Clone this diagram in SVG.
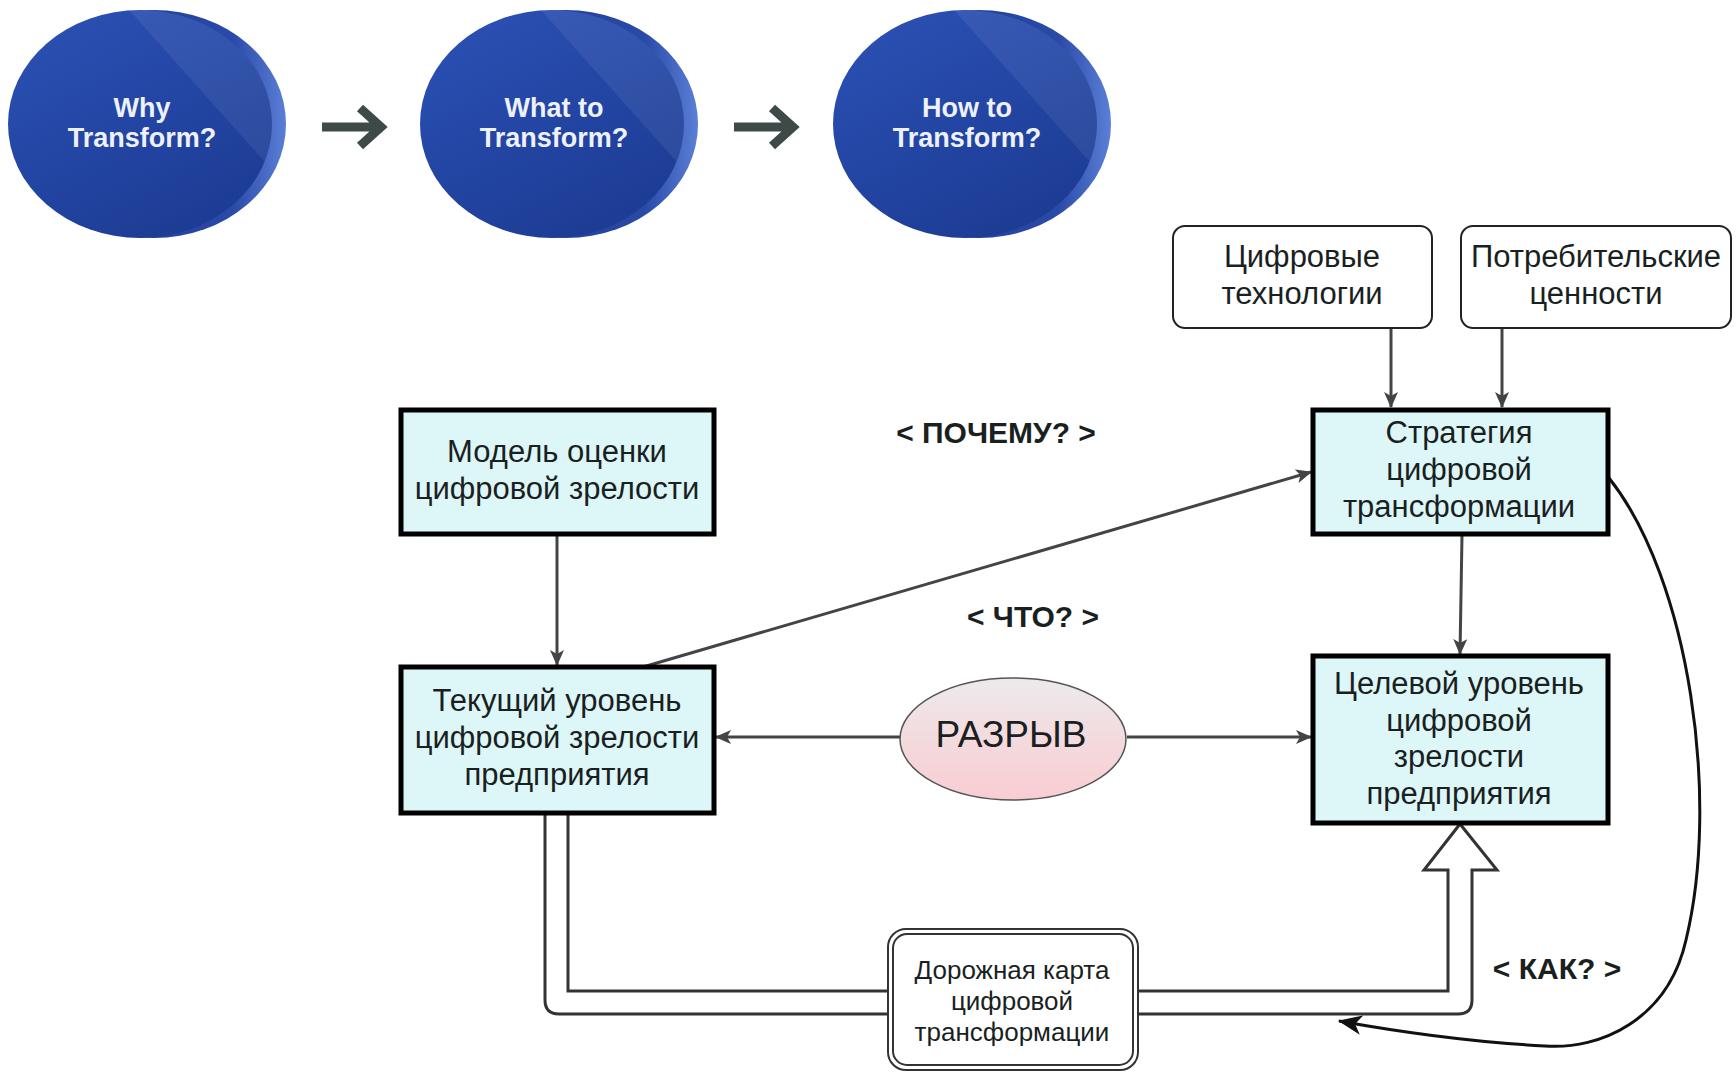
<svg xmlns="http://www.w3.org/2000/svg" width="1736" height="1072" viewBox="0 0 1736 1072">
<defs>
<linearGradient id="face" x1="0" y1="0" x2="0.6" y2="1">
<stop offset="0" stop-color="#2d52b6"/>
<stop offset="0.5" stop-color="#2447a6"/>
<stop offset="1" stop-color="#1d3c94"/>
</linearGradient>
<linearGradient id="rim" x1="0" y1="0" x2="1" y2="0">
<stop offset="0" stop-color="#1a3488"/>
<stop offset="0.8" stop-color="#2a4aa8"/>
<stop offset="1" stop-color="#5b7fd6"/>
</linearGradient>
<linearGradient id="gap" x1="0" y1="0" x2="0" y2="1">
<stop offset="0" stop-color="#eceaec"/>
<stop offset="0.45" stop-color="#f3dcdf"/>
<stop offset="1" stop-color="#f8cdd2"/>
</linearGradient>
<clipPath id="fc1"><ellipse cx="140" cy="124" rx="132" ry="114"/></clipPath>
<clipPath id="fc2"><ellipse cx="552" cy="124" rx="132" ry="114"/></clipPath>
<clipPath id="fc3"><ellipse cx="965" cy="124" rx="132" ry="114"/></clipPath>
<marker id="ah" viewBox="0 0 16 14" refX="15" refY="7" markerWidth="16" markerHeight="14" markerUnits="userSpaceOnUse" orient="auto">
<path d="M0,0 L16,7 L0,14 L4,7 z" fill="#444"/>
</marker>
<marker id="ahk" viewBox="0 0 22 18" refX="21" refY="9" markerWidth="24" markerHeight="20" markerUnits="userSpaceOnUse" orient="auto">
<path d="M0,0 L22,9 L0,18 L6,9 z" fill="#111"/>
</marker>
</defs>
<style>
.t{font-family:"Liberation Sans",Arial,sans-serif;fill:#1a1f1f;text-anchor:middle}
.m{font-size:31px}
.lb{font-size:30px;font-weight:bold}
.rm{font-size:26px}
.ct{font-family:"Liberation Sans",Arial,sans-serif;font-size:27px;font-weight:bold;fill:#eef1fa;text-anchor:middle}
.box{fill:#ddf6f7;stroke:#000;stroke-width:5}
.src{fill:#fff;stroke:#222;stroke-width:2}
.c{fill:none;stroke:#444;stroke-width:3}
.chev{fill:none;stroke:#3e4a48;stroke-width:9}
.sh{fill:#ffffff;opacity:0.07}
</style>
<rect width="1736" height="1072" fill="#fff"/>

<g id="why">
<ellipse cx="154" cy="124" rx="132" ry="114" fill="url(#rim)"/>
<ellipse cx="140" cy="124" rx="132" ry="114" fill="url(#face)"/>
<path class="sh" clip-path="url(#fc1)" d="M120,0 L290,0 L290,190 Z"/>
<text class="ct" x="142" y="117">Why</text>
<text class="ct" x="142" y="147">Transform?</text>
</g>
<g id="what">
<ellipse cx="566" cy="124" rx="132" ry="114" fill="url(#rim)"/>
<ellipse cx="552" cy="124" rx="132" ry="114" fill="url(#face)"/>
<path class="sh" clip-path="url(#fc2)" d="M532,0 L702,0 L702,190 Z"/>
<text class="ct" x="554" y="117">What to</text>
<text class="ct" x="554" y="147">Transform?</text>
</g>
<g id="how">
<ellipse cx="979" cy="124" rx="132" ry="114" fill="url(#rim)"/>
<ellipse cx="965" cy="124" rx="132" ry="114" fill="url(#face)"/>
<path class="sh" clip-path="url(#fc3)" d="M945,0 L1115,0 L1115,190 Z"/>
<text class="ct" x="967" y="117">How to</text>
<text class="ct" x="967" y="147">Transform?</text>
</g>
<g id="steps-arrows">
<path class="chev" d="M322,127 H380 M360,108 L381,127 L360,146"/>
<path class="chev" d="M734,127 H792 M772,108 L793,127 L772,146"/>
</g>

<g id="connectors">
<path class="c" d="M1391,328 V407" marker-end="url(#ah)"/>
<path class="c" d="M1502,328 V407" marker-end="url(#ah)"/>
<path class="c" d="M557,535 V665" marker-end="url(#ah)"/>
<path class="c" d="M643,667 L1311,472" marker-end="url(#ah)"/>
<path class="c" d="M1462,535 L1460,654" marker-end="url(#ah)"/>
<path class="c" d="M900,737 H716" marker-end="url(#ah)"/>
<path class="c" d="M1127,737 H1311" marker-end="url(#ah)"/>
<path d="M1609,478 C1690,580 1720,800 1686,940 C1668,1020 1600,1050 1545,1046 C1470,1042 1400,1032 1339,1021" fill="none" stroke="#111" stroke-width="3" marker-end="url(#ahk)"/>
<path d="M545,814 V1000 Q545,1014 559,1014 H1458 Q1472,1014 1472,1000 V870 H1497 L1460,824 L1424,870 H1448 V991 H568 V814" fill="#fff" stroke="#333" stroke-width="3" stroke-linejoin="miter"/>
</g>

<g id="tech">
<rect class="src" x="1173" y="226" width="259" height="102" rx="12"/>
<text class="t m" x="1302" y="267">Цифровые</text>
<text class="t m" x="1302" y="304">технологии</text>
</g>
<g id="values">
<rect class="src" x="1461" y="226" width="270" height="102" rx="12"/>
<text class="t m" x="1596" y="267">Потребительские</text>
<text class="t m" x="1596" y="304">ценности</text>
</g>
<g id="strategy">
<rect class="box" x="1313" y="410" width="295" height="124"/>
<text class="t m" x="1459" y="443">Стратегия</text>
<text class="t m" x="1459" y="480">цифровой</text>
<text class="t m" x="1459" y="517">трансформации</text>
</g>
<g id="model">
<rect class="box" x="401" y="410" width="313" height="124"/>
<text class="t m" x="557" y="462">Модель оценки</text>
<text class="t m" x="557" y="499">цифровой зрелости</text>
</g>
<g id="current">
<rect class="box" x="401" y="667" width="313" height="146"/>
<text class="t m" x="557" y="711">Текущий уровень</text>
<text class="t m" x="557" y="748">цифровой зрелости</text>
<text class="t m" x="557" y="785">предприятия</text>
</g>
<g id="target">
<rect class="box" x="1313" y="656" width="295" height="167"/>
<text class="t m" x="1459" y="694">Целевой уровень</text>
<text class="t m" x="1459" y="731">цифровой</text>
<text class="t m" x="1459" y="767">зрелости</text>
<text class="t m" x="1459" y="804">предприятия</text>
</g>
<g id="gap-node">
<ellipse cx="1013" cy="739" rx="113" ry="61" fill="url(#gap)" stroke="#555" stroke-width="1.5"/>
<text class="t" x="1011" y="747" font-size="37">РАЗРЫВ</text>
</g>
<g id="roadmap">
<rect x="888" y="929" width="250" height="141" rx="18" fill="#fff" stroke="#333" stroke-width="2"/>
<rect x="893" y="934" width="240" height="131" rx="14" fill="none" stroke="#333" stroke-width="2"/>
<text class="t rm" x="1012" y="979">Дорожная карта</text>
<text class="t rm" x="1012" y="1010">цифровой</text>
<text class="t rm" x="1012" y="1041">трансформации</text>
</g>
<g id="labels">
<text class="t lb" x="996" y="443">&lt; ПОЧЕМУ? &gt;</text>
<text class="t lb" x="1033" y="627">&lt; ЧТО? &gt;</text>
<text class="t lb" x="1557" y="979">&lt; КАК? &gt;</text>
</g>
</svg>
